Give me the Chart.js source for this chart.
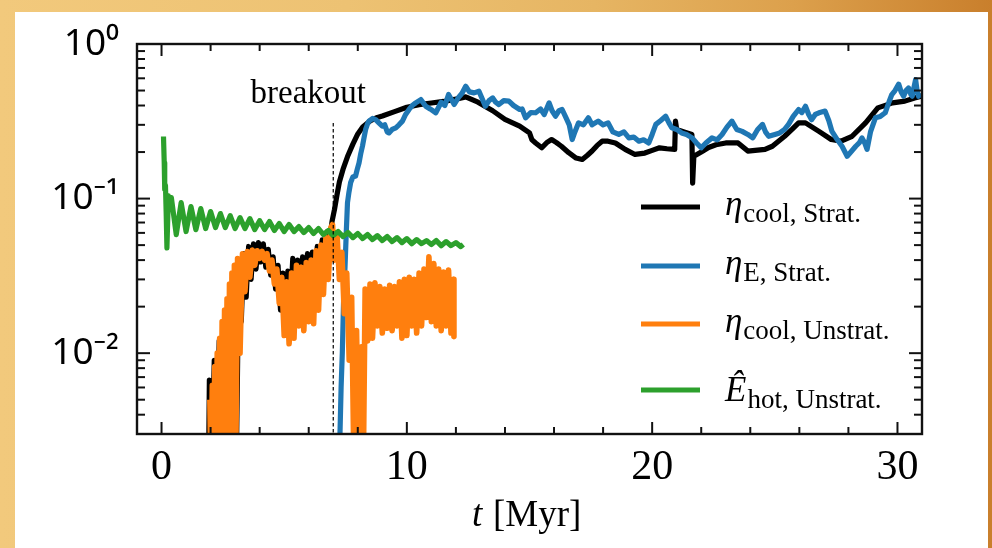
<!DOCTYPE html>
<html><head><meta charset="utf-8">
<script src="https://cdn.jsdelivr.net/npm/chart.js@4.4.1/dist/chart.umd.min.js"></script>
<style>
html,body{margin:0;padding:0;width:992px;height:548px;overflow:hidden;
background:linear-gradient(90deg,#f2c97c 0%,#edc273 35%,#e6b563 60%,#dca04c 80%,#c97f2c 100%);}
#panel{position:absolute;left:15px;top:12px;width:973px;height:536px;background:#fff;}
#c{position:absolute;left:0;top:0;}
</style></head><body>
<div id="panel"></div>
<canvas id="c" width="992" height="548"></canvas>
<script>
// ---------- data ----------
const blackT = [1.92,1.95,2.05,2.15,2.25,2.35,2.45,2.55,2.65,2.75,2.85,2.95,3.05,3.15,3.25,3.35,3.45,3.55,3.65,3.75,3.85,3.95,4.05,4.15,4.25,4.35,4.45,4.55,4.65,4.75,4.85,4.95,5.05,5.15,5.25,5.35,5.45,5.55,5.65,5.75,5.85,5.95,6.05,6.15,6.25,6.35,6.45,6.55,6.65,6.75,6.85,6.95,
 7.05,7.15,7.25,7.40,7.60,7.80,8.00,8.20,8.50,8.80,9.00,9.50,10.0,10.5,11.0,11.5,12.0,12.4,12.9,13.5,14.0,14.6,15.0,15.1,15.25,15.5,15.7,15.9,16.1,16.3,16.6,16.9,17.15,17.35,17.55,17.75,17.96,18.2,18.5,18.9,19.3,19.7,20.0,20.3,20.6,20.92,20.95,21.0,21.3,21.62,21.65,21.70,22.0,22.3,22.6,23.0,23.5,23.9,24.2,24.6,24.9,25.4,25.7,25.97,26.25,26.8,27.3,27.7,28.15,28.7,29.2,29.8,30.3,30.7,31.0];
const blackV = [0.0020,0.0067,0.0020,0.0090,0.0020,0.0120,0.0020,0.0155,0.0022,0.0200,0.0020,0.0260,0.0020,0.0360,0.0160,0.0440,0.0230,0.0490,0.0300,0.0510,0.0350,0.0520,0.0390,0.0510,0.0360,0.0470,0.0320,0.0420,0.0260,0.0370,0.0190,0.0330,0.0180,0.0340,0.0200,0.0410,0.0220,0.0400,0.0240,0.0420,0.0260,0.0440,0.0280,0.0450,0.0310,0.0490,0.0350,0.0540,0.0420,0.0610,0.0520,0.0710,
 0.085,0.105,0.128,0.155,0.190,0.225,0.262,0.290,0.318,0.335,0.342,0.365,0.390,0.405,0.415,0.425,0.440,0.455,0.420,0.370,0.325,0.294,0.266,0.240,0.229,0.213,0.230,0.241,0.230,0.218,0.198,0.183,0.179,0.190,0.203,0.220,0.235,0.235,0.229,0.208,0.193,0.197,0.205,0.213,0.210,0.208,0.317,0.280,0.270,0.260,0.126,0.188,0.200,0.214,0.223,0.229,0.229,0.203,0.205,0.208,0.218,0.253,0.280,0.309,0.309,0.272,0.241,0.235,0.253,0.309,0.386,0.416,0.427,0.448,0.460];

const blueT = [7.27,7.32,7.37,7.43,7.48,7.53,7.58,7.64,7.71,7.80,7.91,7.98,8.05,8.12,8.19,8.26,8.32,8.40,8.46,8.60,8.73,8.85,9.00,9.10,9.20,9.27,9.40,9.55,9.68,9.82,9.95,10.09,10.22,10.36,10.57,10.77,10.95,11.18,11.40,11.55,11.70,11.93,12.10,12.25,12.40,12.55,12.74,12.94,13.05,13.20,13.35,13.50,13.62,13.75,13.95,14.16,14.35,14.60,14.70,14.84,15.05,15.25,15.45,15.60,15.80,15.92,16.06,16.20,16.33,16.50,16.62,16.74,16.85,17.00,17.20,17.40,17.55,17.80,18.00,18.20,18.40,18.64,18.85,19.05,19.25,19.46,19.65,19.86,20.00,20.15,20.35,20.55,20.68,20.80,21.00,21.20,21.40,21.63,21.80,22.00,22.20,22.44,22.65,22.85,23.05,23.25,23.45,23.67,23.90,24.10,24.30,24.50,24.62,24.75,25.00,25.20,25.40,25.56,25.75,25.97,26.10,26.25,26.38,26.50,26.65,26.80,27.05,27.20,27.33,27.55,27.74,27.95,28.10,28.30,28.45,28.55,28.66,28.76,28.90,29.10,29.30,29.50,29.65,29.77,29.90,30.05,30.15,30.25,30.35,30.45,30.55,30.60,30.68,30.74,30.80,30.86,30.95];
const blueV = [0.0028,0.0060,0.0101,0.0250,0.0362,0.060,0.094,0.110,0.127,0.138,0.140,0.155,0.170,0.195,0.218,0.250,0.280,0.305,0.317,0.330,0.324,0.310,0.294,0.300,0.270,0.266,0.280,0.287,0.300,0.317,0.350,0.377,0.400,0.416,0.437,0.396,0.380,0.359,0.420,0.400,0.471,0.406,0.450,0.480,0.533,0.490,0.483,0.495,0.450,0.396,0.430,0.448,0.420,0.406,0.430,0.427,0.400,0.377,0.380,0.333,0.360,0.359,0.380,0.350,0.416,0.370,0.341,0.370,0.377,0.330,0.300,0.241,0.270,0.309,0.300,0.333,0.300,0.317,0.300,0.309,0.270,0.260,0.270,0.247,0.250,0.235,0.240,0.229,0.260,0.302,0.320,0.341,0.310,0.287,0.280,0.266,0.260,0.247,0.230,0.213,0.230,0.247,0.240,0.260,0.290,0.317,0.280,0.272,0.260,0.247,0.280,0.302,0.270,0.253,0.260,0.266,0.280,0.302,0.340,0.377,0.360,0.396,0.350,0.324,0.350,0.359,0.368,0.320,0.272,0.240,0.218,0.188,0.200,0.218,0.230,0.247,0.230,0.208,0.270,0.333,0.340,0.359,0.420,0.471,0.500,0.550,0.490,0.459,0.500,0.520,0.470,0.459,0.530,0.589,0.500,0.459,0.480];

const orangeT = [1.97,2.02,2.07,2.12,2.17,2.22,2.27,2.32,2.37,2.42,2.47,2.52,2.57,2.62,2.67,2.72,2.77,2.82,2.87,2.92,2.97,3.02,3.10,3.20,3.30,3.40,3.50,3.60,3.70,3.80,3.90,4.00,4.10,4.20,4.30,4.40,4.50,4.60,4.70,4.80,4.90,5.00,5.10,5.20,5.30,5.40,5.50,5.60,5.70,5.80,5.90,6.00,6.10,6.20,6.30,6.40,6.50,6.60,6.70,6.80,6.90,6.97,7.05,7.15,7.25,7.35,7.45,7.55,7.65,7.75,7.85,7.95,8.05,8.15,8.22,8.30,8.40,8.50,8.60,8.70,8.80,8.90,9.00,9.10,9.20,9.30,9.40,9.50,9.60,9.70,9.80,9.90,10.00,10.10,10.20,10.30,10.40,10.50,10.60,10.70,10.80,10.90,11.00,11.10,11.20,11.30,11.40,11.50,11.60,11.70,11.80,11.90,11.92];
const orangeV = [0.0050,0.0015,0.0062,0.0015,0.0082,0.0015,0.0100,0.0015,0.0125,0.0015,0.0160,0.0015,0.0190,0.0015,0.0225,0.0015,0.0280,0.0015,0.0330,0.0015,0.0370,0.0015,0.0410,0.0100,0.0440,0.0250,0.0455,0.0310,0.0465,0.0370,0.0460,0.0410,0.0455,0.0400,0.0440,0.0340,0.0400,0.0280,0.0350,0.0210,0.0310,0.0130,0.0290,0.0115,0.0330,0.0125,0.0370,0.0150,0.0360,0.0140,0.0385,0.0160,0.0400,0.0155,0.0460,0.0190,0.0500,0.0240,0.0560,0.0300,0.0650,0.0680,0.0400,0.0600,0.0300,0.0450,0.0180,0.0330,0.0090,0.0230,0.0015,0.0140,0.0015,0.0110,0.0015,0.0260,0.0120,0.0280,0.0125,0.0285,0.0150,0.0270,0.0135,0.0260,0.0145,0.0275,0.0140,0.0270,0.0150,0.0290,0.0125,0.0300,0.0130,0.0310,0.0150,0.0300,0.0135,0.0330,0.0150,0.0350,0.0170,0.0420,0.0160,0.0380,0.0150,0.0350,0.0140,0.0335,0.0150,0.0345,0.0135,0.0300,0.0128];

const greenT = [0.08,0.11,0.13,0.16,0.19,0.22,0.28,0.33,0.40,0.60,0.80,1.00,1.20,1.40,1.60,1.80,2.00,2.20,2.40,2.60,2.80,3.00,3.20,3.40,3.60,3.80,4.00,4.20,4.40,4.60,4.80,5.00,5.20,5.40,5.60,5.80,6.00,6.20,6.40,6.60,6.80,7.00,7.20,7.40,7.60,7.80,8.00,8.20,8.40,8.60,8.80,9.00,9.20,9.40,9.60,9.80,10.00,10.20,10.40,10.60,10.80,11.00,11.20,11.40,11.60,11.80,12.00,12.20,12.30];
const greenV = [0.252,0.170,0.115,0.122,0.080,0.048,0.104,0.090,0.1015,0.0585,0.0942,0.0612,0.0888,0.0630,0.0862,0.0640,0.0824,0.0649,0.0800,0.0649,0.0776,0.0640,0.0753,0.0640,0.0742,0.0630,0.0720,0.0630,0.0710,0.0621,0.0689,0.0612,0.0679,0.0612,0.0659,0.0603,0.0649,0.0594,0.0640,0.0585,0.0621,0.0576,0.0612,0.0568,0.0603,0.0559,0.0594,0.0551,0.0585,0.0543,0.0576,0.0535,0.0568,0.0527,0.0559,0.0519,0.0551,0.0511,0.0543,0.0511,0.0535,0.0504,0.0535,0.0496,0.0527,0.0496,0.0519,0.0489,0.0504];

const breakoutTime = 7.0;
const breakoutSpan = [0.0015, 0.31];

const xMajorTicks = [0, 10, 20, 30];
const xTickLabels = ['0', '10', '20', '30'];
const xMinorTicks = [2,4,6,8,12,14,16,18,22,24,26,28];
const yMajorTicks = [0.01, 0.1, 1];
const yTickLabels = ['10\u207B\u00B2', '10\u207B\u00B9', '10\u2070'];
const yMinorTicks = [0.004,0.005,0.006,0.007,0.008,0.009,0.02,0.03,0.04,0.05,0.06,0.07,0.08,0.09,0.2,0.3,0.4,0.5,0.6,0.7,0.8,0.9];

const legendMain = ['\u03B7', '\u03B7', '\u03B7', '\u00CA'];
const legendSub = ['cool, Strat.', 'E, Strat.', 'cool, Unstrat.', 'hot, Unstrat.'];
const xTitleVar = 't';
const xTitleUnit = '[Myr]';
const breakoutText = 'breakout';

// ---------- chart ----------
const pts = (T, V) => T.map((t, i) => ({x: t, y: V[i]}));
const lineDs = (data, color, order, w) => ({data, borderColor: color, backgroundColor: color, borderWidth: w,
  pointRadius: 0, pointHoverRadius: 0, tension: 0, fill: false, clip: 0, order,
  borderJoinStyle: 'round', borderCapStyle: 'butt'});

const datasets = [
  lineDs(pts(blackT, blackV), '#000000', 4, 5.2),
  lineDs(pts(blueT, blueV), '#1f77b4', 3, 5.2),
  lineDs(pts(orangeT, orangeV), '#ff7f0e', 2, 5.6),
  lineDs(pts(greenT, greenV), '#2ca02c', 1, 5.2),
  Object.assign(lineDs([{x: breakoutTime, y: breakoutSpan[0]}, {x: breakoutTime, y: breakoutSpan[1]}], '#000000', 0, 1.2),
    {borderDash: [3.5, 2.5]})
];

const decor = {
  id: 'decor',
  afterDatasetsDraw(chart) {
    const {ctx, chartArea: a, scales: {x, y}} = chart;
    ctx.save();
    ctx.strokeStyle = '#111';
    ctx.lineWidth = 2;
    const seg = (x1, y1, x2, y2) => { ctx.beginPath(); ctx.moveTo(x1, y1); ctx.lineTo(x2, y2); ctx.stroke(); };
    const xt = (v, L) => { const p = x.getPixelForValue(v); seg(p, a.bottom, p, a.bottom - L); seg(p, a.top, p, a.top + L); };
    const yt = (v, L) => { const p = y.getPixelForValue(v); seg(a.left, p, a.left + L, p); seg(a.right, p, a.right - L, p); };
    xMajorTicks.forEach(v => xt(v, 12));
    xMinorTicks.forEach(v => xt(v, 7));
    yMajorTicks.forEach(v => yt(v, 13));
    yMinorTicks.forEach(v => yt(v, 8));
    ctx.lineWidth = 2.4;
    ctx.strokeRect(a.left, a.top, a.right - a.left, a.bottom - a.top);

    // breakout annotation
    ctx.fillStyle = '#000';
    ctx.font = '33px "Liberation Serif"';
    ctx.textAlign = 'center';
    ctx.textBaseline = 'alphabetic';
    ctx.fillText(breakoutText, x.getPixelForValue(5.98), y.getPixelForValue(0.418));

    // legend
    const rowsY = [207, 266, 324, 390];
    const baseOff = [8, 8, 8, 11];
    const sx1 = a.right - 281, sx2 = a.right - 222, tx = a.right - 197;
    ctx.textAlign = 'left';
    for (let i = 0; i < 4; i++) {
      const ry = rowsY[i];
      ctx.strokeStyle = datasets[i].borderColor;
      ctx.lineWidth = 5;
      seg(sx1, ry, sx2, ry);
      ctx.fillStyle = '#000';
      ctx.font = 'italic 35px "Liberation Serif"';
      const bl = ry + baseOff[i];
      ctx.fillText(legendMain[i], tx, bl);
      const w = ctx.measureText(legendMain[i]).width;
      ctx.font = '27px "Liberation Serif"';
      ctx.fillText(legendSub[i], tx + w + 1, bl + 7);
    }

    // x-axis title
    ctx.font = 'italic 37px "Liberation Serif"';
    ctx.fillText(xTitleVar, 472, 526);
    ctx.font = '37px "Liberation Serif"';
    ctx.fillText(xTitleUnit, 493, 526);
    ctx.restore();
  }
};

new Chart(document.getElementById('c'), {
  type: 'line',
  data: {datasets},
  options: {
    responsive: false,
    devicePixelRatio: 1,
    animation: false,
    events: [],
    layout: {padding: {top: 44, right: 70, left: 0, bottom: 0}},
    plugins: {legend: {display: false}, tooltip: {enabled: false}},
    scales: {
      x: {
        type: 'linear', min: -1, max: 31,
        afterBuildTicks: s => { s.ticks = xMajorTicks.map(v => ({value: v})); },
        afterFit: s => { s.height = 114; },
        grid: {display: false, drawTicks: false},
        border: {display: false},
        ticks: {autoSkip: false, maxRotation: 0, padding: 9, color: '#000',
          font: {family: 'Liberation Serif', size: 42},
          callback: (v, i) => xTickLabels[i]}
      },
      y: {
        type: 'logarithmic', min: 0.003, max: 1,
        afterBuildTicks: s => { s.ticks = yMajorTicks.map(v => ({value: v})); },
        afterFit: s => { s.width = 137; },
        grid: {display: false, drawTicks: false},
        border: {display: false},
        ticks: {autoSkip: false, padding: 18, color: '#000',
          font: {family: 'Noto Sans', size: 37},
          callback: (v, i) => yTickLabels[i]}
      }
    }
  },
  plugins: [decor]
});
</script>
</body></html>
